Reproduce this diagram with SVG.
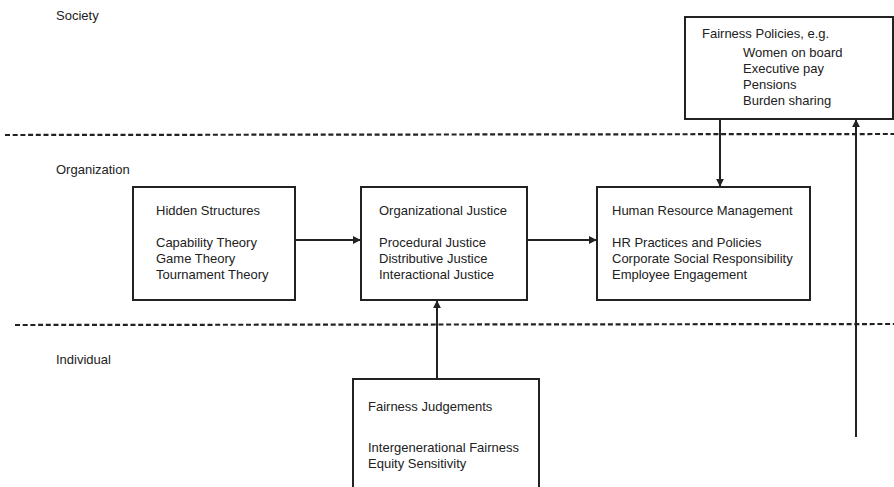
<svg xmlns="http://www.w3.org/2000/svg" width="894" height="487" viewBox="0 0 894 487">
<style>
text{font-family:"Liberation Sans",Arial,sans-serif;font-size:13px;fill:#222}
.box{fill:#fff;stroke:#222;stroke-width:2}
.div{stroke:#222;stroke-width:2.2;stroke-dasharray:5 2.7;fill:none}
.conn{stroke:#222;stroke-width:2;fill:none;marker-end:url(#ah)}
</style>
<defs>
<marker id="ah" viewBox="0 0 10 10" refX="9" refY="5" markerWidth="4" markerHeight="4" orient="auto" markerUnits="strokeWidth">
<path d="M0,0L10,5L0,10z" fill="#222"/>
</marker>
</defs>
<g id="layers">
<line class="div" x1="5" y1="135" x2="894" y2="134"/>
<line class="div" x1="15" y1="325" x2="894" y2="324"/>
<text x="56" y="20">Society</text>
<text x="56" y="174">Organization</text>
<text x="56" y="364">Individual</text>
</g>
<g id="connectors">
<line class="conn" x1="295" y1="240" x2="360" y2="240"/>
<line class="conn" x1="527" y1="240" x2="596" y2="240"/>
<line class="conn" x1="720" y1="119" x2="720" y2="186"/>
<line class="conn" x1="437" y1="378" x2="437" y2="301"/>
<line class="conn" x1="856" y1="437" x2="856" y2="120"/>
</g>
<g id="fairness-policies">
<rect class="box" x="685" y="17" width="208" height="102"/>
<text x="702" y="38">Fairness Policies, e.g.</text>
<text x="743" y="57">Women on board</text>
<text x="743" y="73">Executive pay</text>
<text x="743" y="89">Pensions</text>
<text x="743" y="105">Burden sharing</text>
</g>
<g id="hidden-structures">
<rect class="box" x="133" y="187" width="162" height="113"/>
<text x="156" y="215">Hidden Structures</text>
<text x="156" y="247">Capability Theory</text>
<text x="156" y="263">Game Theory</text>
<text x="156" y="279">Tournament Theory</text>
</g>
<g id="organizational-justice">
<rect class="box" x="361" y="187" width="166" height="113"/>
<text x="379" y="215">Organizational Justice</text>
<text x="379" y="247">Procedural Justice</text>
<text x="379" y="263">Distributive Justice</text>
<text x="379" y="279">Interactional Justice</text>
</g>
<g id="hrm">
<rect class="box" x="597" y="187" width="213" height="113"/>
<text x="612" y="215">Human Resource Management</text>
<text x="612" y="247">HR Practices and Policies</text>
<text x="612" y="263">Corporate Social Responsibility</text>
<text x="612" y="279">Employee Engagement</text>
</g>
<g id="fairness-judgements">
<rect class="box" x="353" y="379" width="186" height="120"/>
<text x="368" y="411">Fairness Judgements</text>
<text x="368" y="452">Intergenerational Fairness</text>
<text x="368" y="468">Equity Sensitivity</text>
</g>
</svg>
